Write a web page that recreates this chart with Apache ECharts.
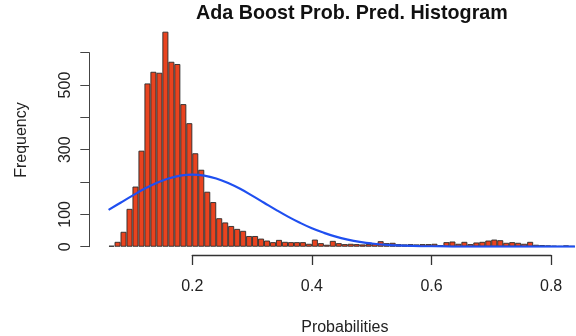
<!DOCTYPE html>
<html>
<head>
<meta charset="utf-8">
<script src="https://cdn.jsdelivr.net/npm/echarts@6/dist/echarts.min.js"></script>
<style>html,body{margin:0;padding:0;background:#fff;}#c{width:576px;height:336px;}</style>
</head>
<body>
<div id="c"></div>
<script>
// Histogram bins (left edges, width 0.01) and frequencies
const binStarts = [0.06,0.07,0.08,0.09,0.10,0.11,0.12,0.13,0.14,0.15,0.16,0.17,0.18,0.19,0.20,0.21,0.22,0.23,0.24,0.25,0.26,0.27,0.28,0.29,0.30,0.31,0.32,0.33,0.34,0.35,0.36,0.37,0.38,0.39,0.40,0.41,0.42,0.43,0.44,0.45,0.46,0.47,0.48,0.49,0.50,0.51,0.52,0.53,0.54,0.55,0.56,0.57,0.58,0.59,0.60,0.61,0.62,0.63,0.64,0.65,0.66,0.67,0.68,0.69,0.70,0.71,0.72,0.73,0.74,0.75,0.76,0.77,0.78,0.79,0.80,0.81,0.82,0.83];
const frequencies = [3,15,46,117,186,297,505,541,538,665,572,565,441,382,289,238,170,138,88,75,64,55,49,33,33,25,19,14,21,15,14,14,14,9,22,11,6,18,11,8,9,8,7,8,10,17,11,12,8,7,8,7,8,8,9,5,14,16,9,15,8,13,15,19,22,20,12,14,12,9,15,6,5,4,3,2,4,2];
const binWidth = 0.01;

// Blue density-style curve
const curveX = [0.06,0.08,0.10,0.12,0.14,0.16,0.18,0.20,0.22,0.24,0.26,0.28,0.30,0.32,0.34,0.36,0.38,0.40,0.42,0.44,0.46,0.48,0.50,0.54,0.58,0.62,0.66,0.72,0.78,0.84];
const curveY = [114,136,158,179,197,211,220,223,220,211,197,179,158,136,114,93,74,57,43,31,22,15,10,4,2,1,0,0,0,0];

// Axis ticks
const xTicks = [0.2,0.4,0.6,0.8];
const yTicks = [0,100,200,300,400,500,600];
const yTickLabels = ['0','100','','300','','500',''];

const titleText = 'Ada Boost Prob. Pred. Histogram';
const xName = 'Probabilities';
const yName = 'Frequency';

const barData = binStarts.map((s,i)=>[s+binWidth/2, frequencies[i]]);
const lineData = curveX.map((x,i)=>[x, curveY[i]]);

const FONT = '"Liberation Sans", Arial, Helvetica, sans-serif';
const hiddenAxis = {axisLine:{show:false},axisTick:{show:false},axisLabel:{show:false},splitLine:{show:false}};
const chart = echarts.init(document.getElementById('c'), null, {renderer:'canvas'});
chart.setOption({
  animation:false,
  backgroundColor:'#fff',
  title:{text:titleText,left:196,top:4,padding:0,
    textStyle:{fontFamily:FONT,fontSize:19.7,fontWeight:'bold',color:'#111'}},
  grid:[
    {left:102.6,right:1,top:20.4,bottom:89.3,containLabel:false,outerBoundsMode:'none'},
    {left:192.3,right:24.9,top:52.7,bottom:89.3,containLabel:false,outerBoundsMode:'none'},
    {left:192.3,right:24.9,top:52.7,bottom:81,containLabel:false,outerBoundsMode:'none'}
  ],
  xAxis:[
    Object.assign({type:'value',gridIndex:0,min:0.05,max:0.84,
      name:xName,nameLocation:'middle',nameGap:73,
      nameTextStyle:{fontFamily:FONT,fontSize:16,color:'#222',padding:[0,0,0,12]}},hiddenAxis),
    Object.assign({type:'value',gridIndex:1,min:0,max:1},hiddenAxis),
    {type:'value',gridIndex:2,position:'bottom',min:xTicks[0],max:xTicks[xTicks.length-1],interval:0.2,
      axisLine:{show:true,onZero:false,lineStyle:{color:'#333',width:1.3}},
      axisTick:{show:true,length:10,lineStyle:{color:'#333',width:1.3}},
      axisLabel:{show:true,margin:24,fontFamily:FONT,fontSize:16,color:'#222',
        formatter:v=>{const k=xTicks.findIndex(t=>Math.abs(t-v)<1e-9);return k>=0?String(xTicks[k]):'';}},
      splitLine:{show:false}}
  ],
  yAxis:[
    Object.assign({type:'value',gridIndex:0,min:0,max:700,
      name:yName,nameLocation:'middle',nameGap:73,nameRotate:90,
      nameTextStyle:{fontFamily:FONT,fontSize:16,color:'#222',padding:[0,13,0,0]}},hiddenAxis),
    {type:'value',gridIndex:1,position:'left',min:yTicks[0],max:yTicks[yTicks.length-1],interval:100,offset:103,
      axisLine:{show:true,onZero:false,lineStyle:{color:'#444',width:1}},
      axisTick:{show:true,length:9,lineStyle:{color:'#444',width:1}},
      axisLabel:{show:true,rotate:90,margin:16,fontFamily:FONT,fontSize:16,color:'#222',
        formatter:v=>{const k=yTicks.indexOf(v);return k>=0?yTickLabels[k]:'';}},
      splitLine:{show:false}},
    Object.assign({type:'value',gridIndex:2,min:0,max:1},hiddenAxis)
  ],
  series:[
    {type:'bar',xAxisIndex:0,yAxisIndex:0,data:barData,barWidth:5.98,
      itemStyle:{color:'#E9431F',borderColor:'#2a2a2a',borderWidth:0.9},z:2},
    {type:'line',xAxisIndex:0,yAxisIndex:0,data:lineData,smooth:0.4,symbol:'none',
      lineStyle:{color:'#1F4FF0',width:2.2},z:3}
  ]
});
</script>
</body>
</html>
